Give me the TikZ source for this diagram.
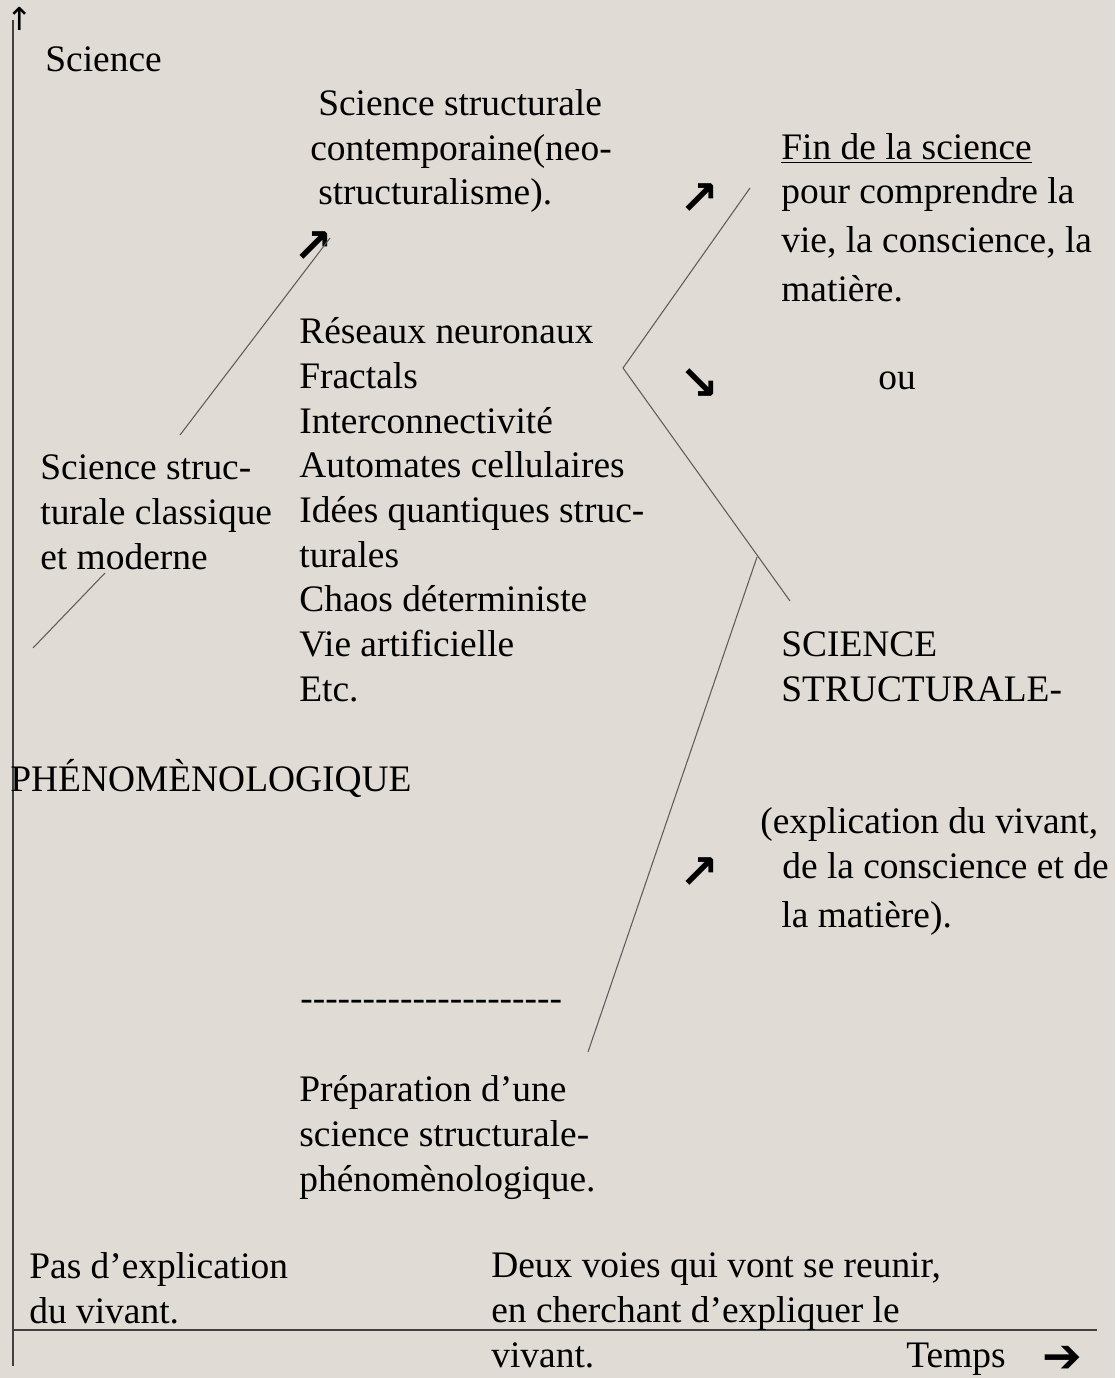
\documentclass[tikz,border=0pt]{standalone}
\usepackage{fontspec}
\setmainfont{Liberation Serif}
\newfontfamily\symfont[BoldFont={DejaVu Sans Bold}]{DejaVu Sans}
\usetikzlibrary{positioning}

\definecolor{fond}{HTML}{E0DBD5}
\definecolor{trait}{HTML}{5C5C5C}

\tikzset{
  texte/.style={anchor=base west, inner sep=0pt, align=left, font=\fontsize{21.3}{25.4}\selectfont},
  fleche/.style={inner sep=0pt, font=\symfont\bfseries\fontsize{27}{27}\selectfont},
  ligne/.style={draw=trait, line width=0.6pt}
}

\begin{document}
\begin{tikzpicture}[x=0.02cm, y=-0.02cm]
  % Fond
  \fill[fond] (0,0) rectangle (1115,1378);
  \useasboundingbox (0,0) rectangle (1115,1378);

  % Axes
  \coordinate (haut) at (13,20);
  \coordinate (origine) at (13,1366);
  \coordinate (droite) at (1097,1330);
  \coordinate (gauche) at (12,1330);
  \draw[ligne, draw=black!75] (haut) -- (origine);
  \draw[ligne, draw=black!75] (gauche) -- (droite);
  \node[fleche, font=\symfont\fontsize{18}{18}\selectfont] (fhaut) at (20,19) {↑};
  \node[fleche, font=\symfont\fontsize{27}{27}\selectfont] (ftemps) at (1062,1359) {➔};

  % Colonne de gauche (ancre : ligne de base de la derniere ligne)
  \node[texte] (science) at (45,72) {Science};
  \node[texte] (classique) at (40,569) {Science struc-\\turale classique\\et moderne};
  \node[texte] (phenom) at (10,791) {PHÉNOMÈNOLOGIQUE};
  \node[texte] (pasexp) at (29,1323) {Pas d’explication\\du vivant.};

  % Colonne du milieu
  \node[texte] (contemp) at (310,205) {\hspace*{4.5pt}Science structurale\\contemporaine(neo-\\\hspace*{4.5pt}structuralisme).};
  \node[texte] (liste) at (299,701) {Réseaux neuronaux\\Fractals\\Interconnectivité\\Automates cellulaires\\Idées quantiques struc-\\turales\\Chaos déterministe\\Vie artificielle\\Etc.};
  \node[texte] (tirets) at (300,1010) {-{}-{}-{}-{}-{}-{}-{}-{}-{}-{}-{}-{}-{}-{}-{}-{}-{}-{}-{}-{}-};
  \node[texte] (prep) at (299,1191) {Préparation d’une\\science structurale-\\phénomènologique.};
  \node[texte] (deuxvoies) at (491,1367) {Deux voies qui vont se reunir,\\en cherchant d’expliquer le\\vivant.};
  \node[texte] (temps) at (906,1367) {Temps};

  % Colonne de droite
  \node[texte] (fin) at (781,301) {\underline{Fin de la science}\\pour comprendre la\\[2.3pt]vie, la conscience, la\\[2.3pt]matière.};
  \node[texte] (ou) at (878,389) {ou};
  \node[texte] (ssp) at (781,701) {SCIENCE\\STRUCTURALE-};
  \node[texte] (explic) at (760,927) {(explication du vivant,\\\hspace*{12.5pt}de la conscience et de\\[2.3pt]\hspace*{12pt}la matière).};

  % Fleches
  \node[fleche] (f1) at (313,247) {↗};
  \node[fleche] (f2) at (699,199) {↗};
  \node[fleche] (f3) at (699,384) {↘};
  \node[fleche] (f4) at (699,873) {↗};

  % Traits
  \coordinate (a1) at (180,435);
  \coordinate (a2) at (330,238);
  \coordinate (b1) at (33,648);
  \coordinate (b2) at (105,573);
  \coordinate (haut droit) at (750,188);
  \coordinate (pivot) at (623,368);
  \coordinate (bas droit) at (790,601);
  \coordinate (jonction) at (757,557);
  \coordinate (depart) at (588,1052);
  \draw[ligne] (a1) -- (a2);
  \draw[ligne] (b1) -- (b2);
  \draw[ligne] (haut droit) -- (pivot) -- (bas droit);
  \draw[ligne] (depart) -- (jonction);
\end{tikzpicture}
\end{document}
